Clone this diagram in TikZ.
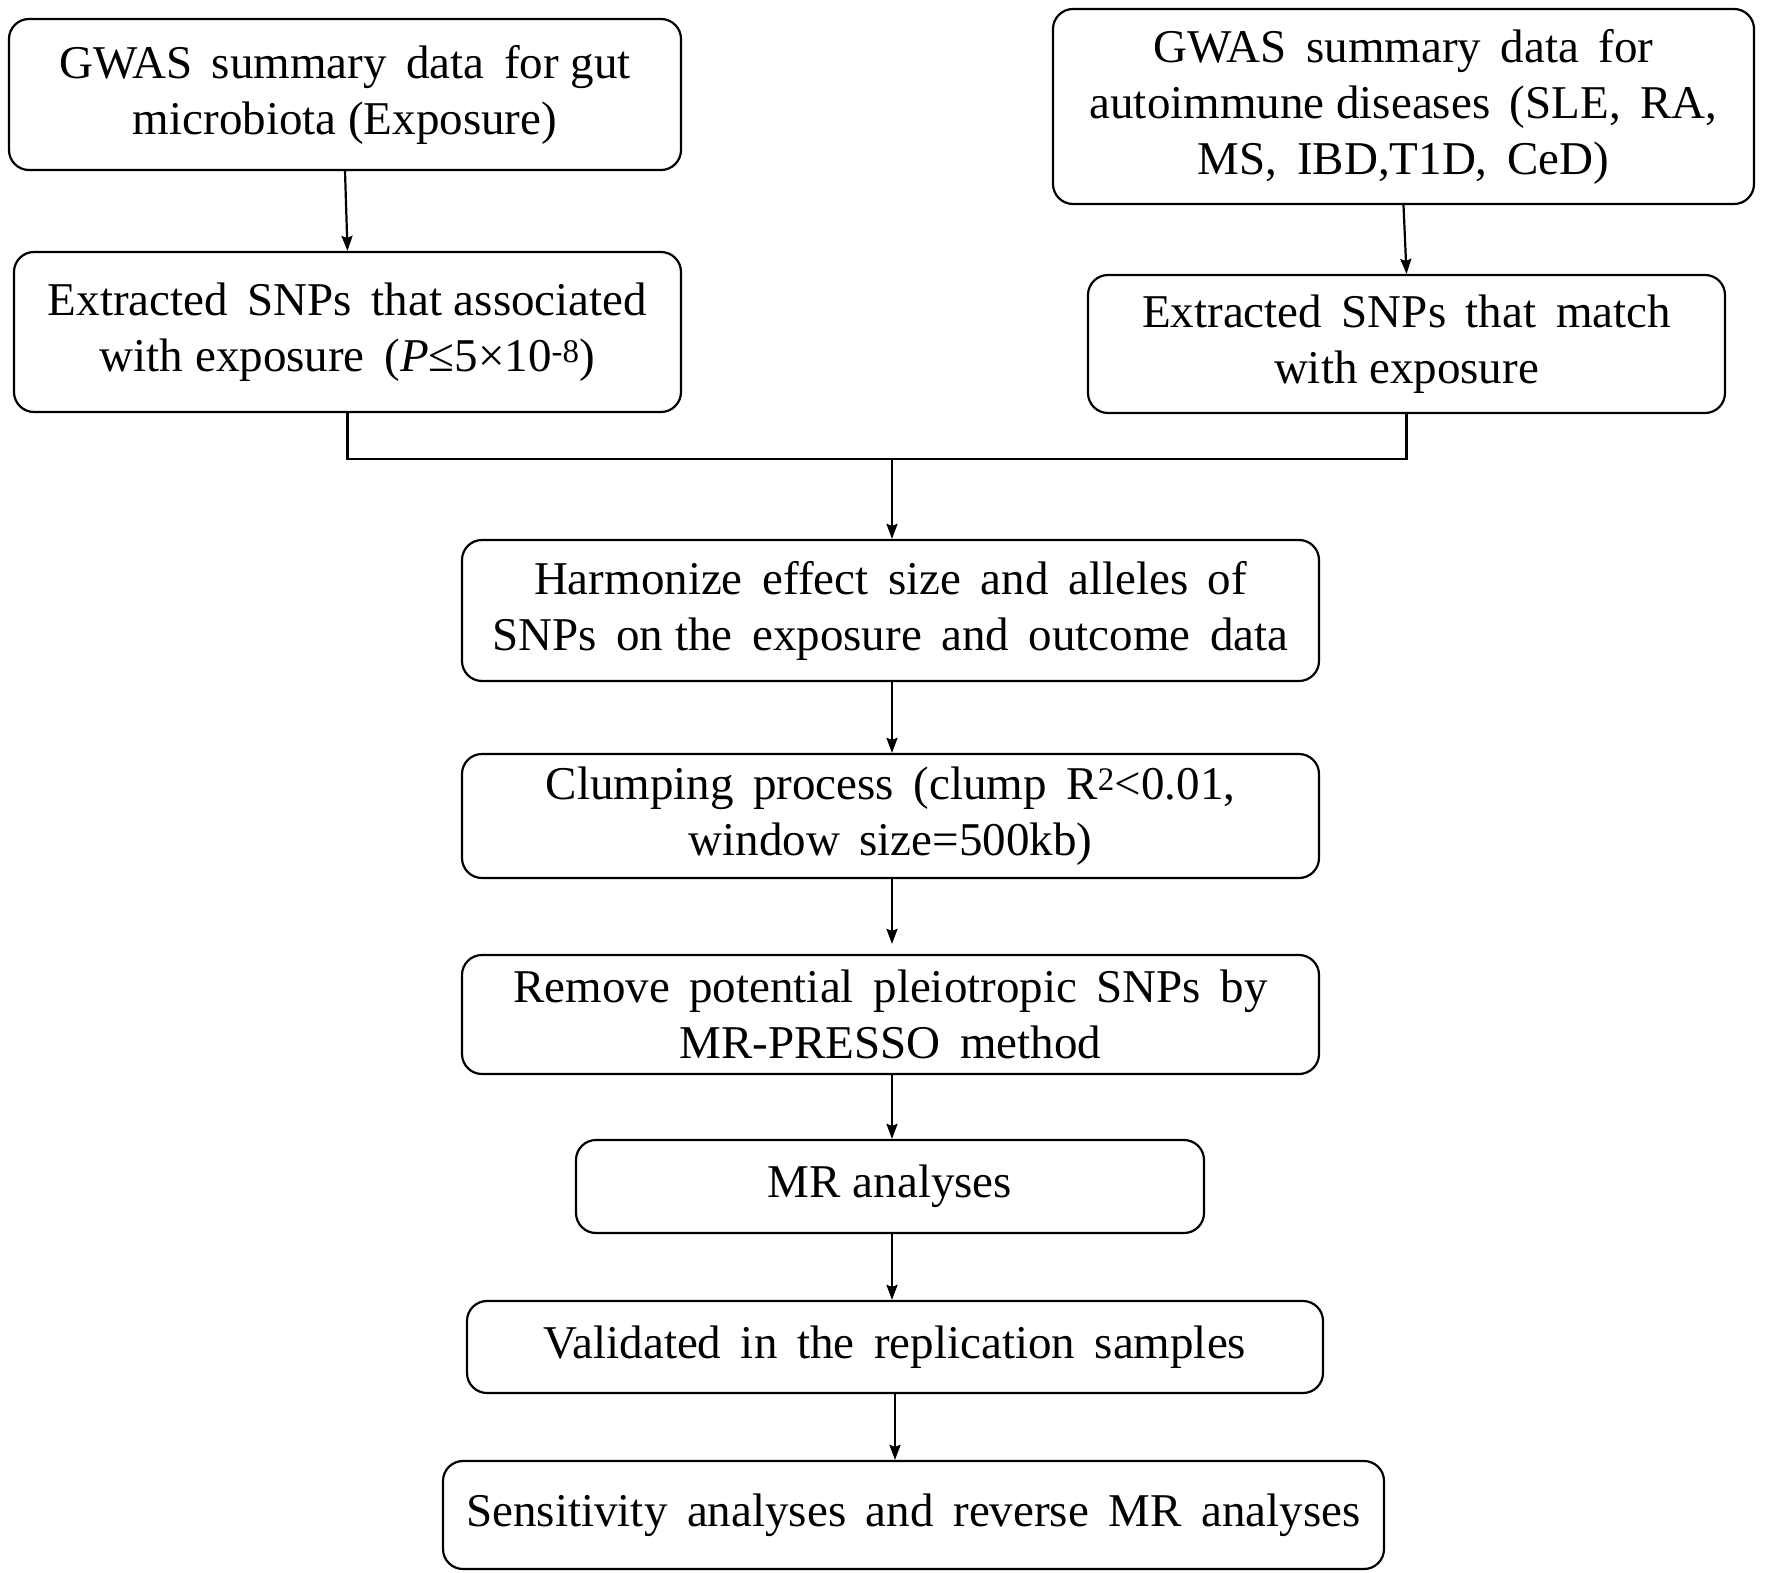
\documentclass[tikz,border=0pt]{standalone}
\usepackage{fontspec}
\setmainfont{Liberation Serif}
\usetikzlibrary{arrows.meta}
\begin{document}
\begin{tikzpicture}[x=1pt,y=-1pt,
  box/.style={draw, line width=2.2pt, rounded corners=20pt, inner sep=0pt, align=center,
    font=\fontsize{47}{56}\selectfont},
  conn/.style={line width=2.2pt},
  arr/.style={conn, -{Stealth[length=15pt,width=11pt,inset=2pt]}}]
\useasboundingbox (0,0) rectangle (1772,1573);
\node[box, minimum width=672pt, minimum height=151pt] (b1) at (345,94.5)
  {GWAS\, summary\, data\, for gut\\ microbiota (Exposure)};
\node[box, minimum width=667pt, minimum height=160pt] (b2) at (347.5,332)
  {Extracted\, SNPs\, that associated\\ with exposure\, (\textit{P}≤5×10\textsuperscript{-8})};
\node[box, minimum width=701pt, minimum height=195pt] (b3) at (1403.5,106.5)
  {GWAS\, summary\, data\, for\\ autoimmune diseases\, (SLE,\, RA,\\ MS,\, IBD,T1D,\, CeD)};
\node[box, minimum width=637pt, minimum height=138pt] (b4) at (1406.5,344)
  {Extracted\, SNPs\, that\, match\\ with exposure};
\node[box, minimum width=857pt, minimum height=141pt] (b5) at (890.5,610.5)
  {Harmonize\, effect\, size\, and\, alleles\, of\\ SNPs\, on the\, exposure\, and\, outcome\, data};
\node[box, minimum width=857pt, minimum height=124pt] (b6) at (890.5,816)
  {Clumping\, process\, (clump\, R\textsuperscript{2}<0.01,\\ window\, size=500kb)};
\node[box, minimum width=857pt, minimum height=119pt] (b7) at (890.5,1014.5)
  {Remove\, potential\, pleiotropic\, SNPs\, by\\ MR-PRESSO\, method};
\node[box, minimum width=628pt, minimum height=93pt] (b8) at (890,1186.5)
  {MR analyses};
\node[box, minimum width=856pt, minimum height=92pt] (b9) at (895,1347)
  {Validated\, in\, the\, replication\, samples};
\node[box, minimum width=941pt, minimum height=108pt] (b10) at (913.5,1515)
  {Sensitivity\, analyses\, and\, reverse\, MR\, analyses};
\coordinate (m) at (892,459);
\draw[arr] (b1.south) -- (b2.north);
\draw[arr] (b3.south) -- (b4.north);
\draw[conn] (b2.south) |- (m);
\draw[conn] (b4.south) |- (m);
\draw[arr] (m) -- (m |- b5.north);
\draw[arr] (m |- b5.south) -- (m |- b6.north);
\draw[arr, shorten >=10pt] (m |- b6.south) -- (m |- b7.north);
\draw[arr] (m |- b7.south) -- (m |- b8.north);
\draw[arr] (m |- b8.south) -- (m |- b9.north);
\draw[arr] (b9.south) -- (b9.south |- b10.north);
\end{tikzpicture}
\end{document}
